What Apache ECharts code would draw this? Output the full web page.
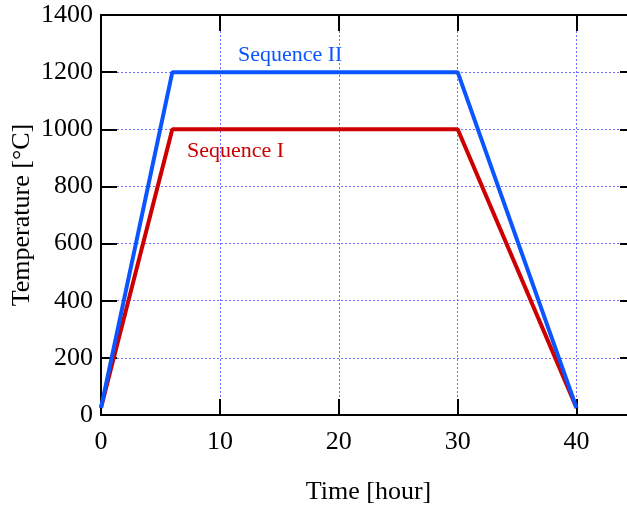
<!DOCTYPE html>
<html>
<head>
<meta charset="utf-8">
<script src="https://cdn.jsdelivr.net/npm/echarts@6/dist/echarts.min.js"></script>
<style>
  html, body { margin: 0; padding: 0; background: #fff; }
  #chart { width: 627px; height: 509px; }
</style>
</head>
<body>
<div id="chart"></div>
<script>
// Firing schedules
const timeHours = [0, 6, 30, 40];
const seq1Temp = [25, 1000, 1000, 25];
const seq2Temp = [25, 1200, 1200, 25];
const xTicks = [0, 10, 20, 30, 40];
const yTicks = [0, 200, 400, 600, 800, 1000, 1200, 1400];

const font = 'Liberation Serif';
const gridColor = '#6f6fff';

const chart = echarts.init(document.getElementById('chart'));

function pairs(xs, ys) {
    return xs.map(function (x, i) { return [x, ys[i]]; });
}

const tickStyle = { inside: true, length: 16, lineStyle: { color: '#000', width: 2 } };
const frameLine = { show: true, onZero: false, lineStyle: { color: '#000', width: 2 } };

const option = {
    animation: false,
    backgroundColor: '#fff',
    grid: {
        left: 101,
        top: 15,
        width: 535,
        height: 400,
        containLabel: false,
        outerBoundsMode: 'none'
    },
    xAxis: [
        {
            type: 'value',
            min: 0,
            max: 45,
            interval: 10,
            name: 'Time [hour]',
            nameLocation: 'middle',
            nameGap: 64,
            nameTextStyle: { fontFamily: font, fontSize: 26, color: '#000' },
            axisLine: frameLine,
            axisTick: tickStyle,
            axisLabel: {
                fontFamily: font, fontSize: 26, color: '#000', margin: 14,
                formatter: function (v) { return xTicks.indexOf(v) >= 0 ? String(v) : ''; }
            },
            splitLine: { show: true, lineStyle: { color: gridColor, type: [2, 2], width: 1 } }
        },
        {
            type: 'value',
            position: 'top',
            min: 0,
            max: 45,
            interval: 10,
            axisLine: frameLine,
            axisTick: tickStyle,
            axisLabel: { show: false },
            splitLine: { show: false }
        }
    ],
    yAxis: [
        {
            type: 'value',
            min: 0,
            max: 1400,
            interval: 200,
            name: 'Temperature [°C]',
            nameLocation: 'middle',
            nameGap: 66,
            nameMoveOverlap: false,
            nameTextStyle: { fontFamily: font, fontSize: 26, color: '#000' },
            axisLine: frameLine,
            axisTick: tickStyle,
            axisLabel: {
                fontFamily: font, fontSize: 26, color: '#000', margin: 8,
                formatter: function (v) { return yTicks.indexOf(v) >= 0 ? String(v) : ''; }
            },
            splitLine: { show: true, lineStyle: { color: gridColor, type: [2, 2], width: 1 } }
        },
        {
            type: 'value',
            position: 'right',
            min: 0,
            max: 1400,
            interval: 200,
            axisLine: frameLine,
            axisTick: tickStyle,
            axisLabel: { show: false },
            splitLine: { show: false }
        }
    ],
    graphic: [
        {
            type: 'text', left: 238, top: 44,
            style: { text: 'Sequence II', fill: '#0a55ff', fontFamily: font, fontSize: 22 }
        },
        {
            type: 'text', left: 187, top: 140,
            style: { text: 'Sequence I', fill: '#cc0000', fontFamily: font, fontSize: 22 }
        }
    ],
    series: [
        {
            name: 'Sequence I',
            type: 'line',
            symbol: 'none',
            lineStyle: { color: '#cc0000', width: 4 },
            data: pairs(timeHours, seq1Temp)
        },
        {
            name: 'Sequence II',
            type: 'line',
            symbol: 'none',
            lineStyle: { color: '#0a55ff', width: 4 },
            data: pairs(timeHours, seq2Temp)
        }
    ]
};

chart.setOption(option);
</script>
</body>
</html>
